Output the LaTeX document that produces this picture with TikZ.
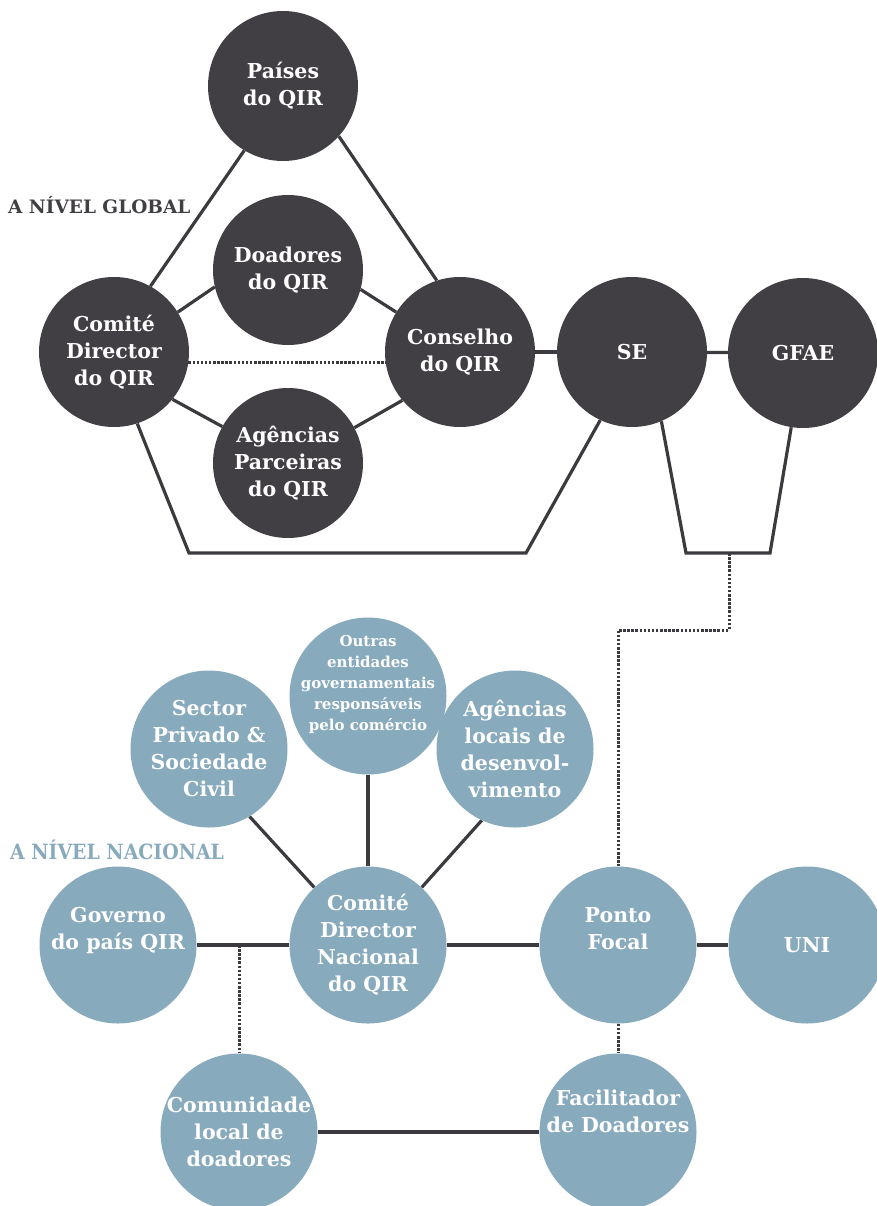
\documentclass[tikz,border=0pt]{standalone}
\usepackage{fontspec}
\setmainfont{DejaVu Serif}
\newfontfamily\condfont[FakeStretch=0.9]{DejaVu Serif}
\usetikzlibrary{backgrounds}
\definecolor{darkc}{HTML}{423F44}
\definecolor{linec}{HTML}{3C3A3E}
\definecolor{bluec}{HTML}{88AABD}
\begin{document}
\begin{tikzpicture}[x=1pt,y=-1pt,
  dark/.style={circle,fill=darkc,draw=none,minimum size=150pt,inner sep=-40pt,text=white,align=center,
    font=\bfseries\fontsize{20.5}{27}\selectfont},
  blue/.style={circle,fill=bluec,draw=none,minimum size=157pt,inner sep=-40pt,text=white,align=center,
    font=\bfseries\fontsize{20.5}{27}\selectfont},
  conn/.style={draw=linec,line width=3.2pt},
  dotconn/.style={draw=linec,line width=3pt,dash pattern=on 2.5pt off 1.6pt},
  lbl/.style={anchor=base west,inner sep=0pt}
]
\useasboundingbox (0,0) rectangle (876,1206);

% ---------- global level ----------
\node[dark] (pa) at (283,86)  {Países\\do QIR};
\node[dark] (do) at (288,270) {Doadores\\do QIR};
\node[dark] (cd) at (114,352) {Comité\\Director\\do QIR};
\node[dark] (ap) at (288,463) {Agências\\Parceiras\\do QIR};
\node[dark] (co) at (460,352) {Conselho\\do QIR};
\node[dark] (se) at (632,352) {SE};
\node[dark] (gf) at (803,353) {GFAE};

\node[lbl,text=darkc,font=\bfseries\fontsize{18.5}{20}\selectfont] (lg) at (8,214) {A NÍVEL GLOBAL};

% ---------- national level ----------
\node[blue] (sp) at (209,749) {Sector\\Privado \&\\Sociedade\\Civil};
\node[blue,font=\bfseries\fontsize{15}{21}\selectfont] (ou) at (368,696) {Outras\\entidades\\governamentais\\responsáveis\\pelo comércio\\[6pt]};
\node[blue] (al) at (515,749) {Agências\\locais de\\desenvol-\\vimento};
\node[blue] (go) at (118,945) {Governo\\do país QIR\\[6pt]};
\node[blue] (cn) at (368,945) {Comité\\Director\\Nacional\\do QIR};
\node[blue] (pf) at (618,945) {Ponto\\Focal\\[6pt]};
\node[blue] (un) at (807,945) {UNI};
\node[blue] (cl) at (239,1132) {Comunidade\\local de\\doadores};
\node[blue] (fd) at (618,1132) {Facilitador\\de Doadores\\[14pt]};

\node[lbl,text=bluec,font=\condfont\bfseries\fontsize{21}{22}\selectfont] (ln) at (10,859) {A NÍVEL NACIONAL};

\begin{scope}[on background layer]
  % global connectors
  \draw[conn] (pa.-121) -- (cd.61);
  \draw[conn] (pa.-42) -- (co.108);
  \draw[conn] (cd.32) -- (do.193);
  \draw[conn] (do.-15) -- (co.148);
  \draw[conn] (cd.-39) -- (ap.151);
  \draw[conn] (ap.28) -- (co.220);
  \draw[dotconn] (cd.-8.4) -- (co.188.4);
  \draw[conn] (co) -- (se);
  \draw[conn] (se) -- (gf);
  \coordinate (b1) at (189,553);
  \coordinate (b2) at (526,553);
  \draw[conn,line join=miter] (cd.-72) -- (b1) -- (b2) -- (se.-115);
  \coordinate (t1) at (686,553);
  \coordinate (t2) at (770,553);
  \draw[conn,line join=miter] (se.-67) -- (t1) -- (t2) -- (gf.-99);
  \coordinate (d1) at (729,553);
  \coordinate (d2) at (729,630);
  \coordinate (d3) at (618,630);
  \draw[dotconn] (d1) -- (d2) -- (d3) -- (pf.north);
  % national connectors
  \draw[conn] (sp.-59) -- (cn.133);
  \draw[conn] (ou.south) -- (cn.north);
  \draw[conn] (al.-115) -- (cn.47);
  \draw[conn] (go) -- (cn);
  \draw[conn] (cn) -- (pf);
  \draw[conn] (pf) -- (un);
  \coordinate (j1) at (239,945);
  \draw[dotconn] (j1) -- (cl.north);
  \draw[dotconn] (pf.south) -- (fd.north);
  \draw[conn] (cl) -- (fd);
\end{scope}
\end{tikzpicture}
\end{document}
